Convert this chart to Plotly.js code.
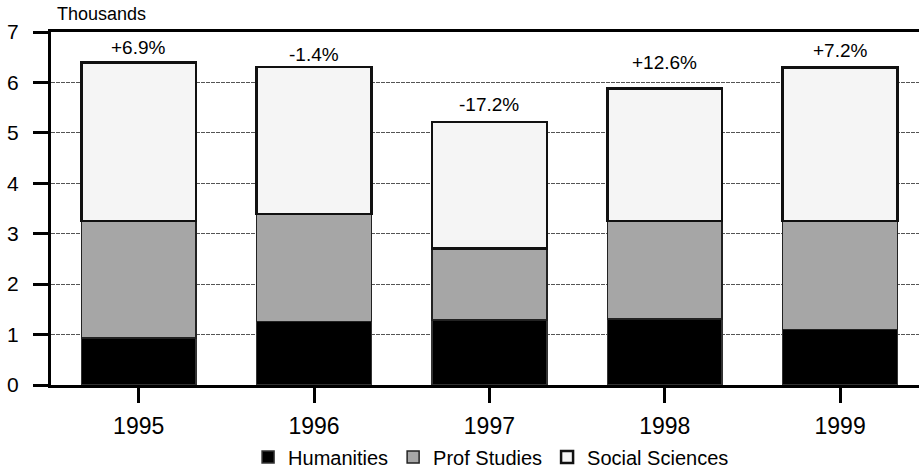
<!DOCTYPE html>
<html>
<head>
<meta charset="utf-8">
<script src="https://cdn.plot.ly/plotly-3.0.1.min.js"></script>
<style>
html,body{margin:0;padding:0;background:#fff;overflow:hidden;}
#chart{width:919px;height:474px;}
</style>
</head>
<body>
<div id="chart"></div>
<script>
// ---- data (thousands) ----
const years = ['1995', '1996', '1997', '1998', '1999'];
const humanities = [0.93, 1.26, 1.29, 1.31, 1.10];
const profStudies = [2.32, 2.13, 1.42, 1.94, 2.15];
const socialSciences = [3.15, 2.92, 2.51, 2.63, 3.05];
const changeLabels = ['+6.9%', '-1.4%', '-17.2%', '+12.6%', '+7.2%'];
const yTicks = [0, 1, 2, 3, 4, 5, 6, 7];

// ---- build ----
const totals = years.map((_, i) => humanities[i] + profStudies[i] + socialSciences[i]);
const labelShift = [15, 12, 17, 26, 17];
const FONT = 'Liberation Sans, Arial, sans-serif';

const traces = [
  {type: 'bar', name: 'Humanities', x: years, y: humanities,
   marker: {color: '#000000', line: {color: '#333', width: 1.5}}},
  {type: 'bar', name: 'Prof Studies', x: years, y: profStudies,
   marker: {color: '#a6a6a6', line: {color: '#222', width: 1.5}}},
  {type: 'bar', name: 'Social Sciences', x: years, y: socialSciences,
   marker: {color: '#f5f5f5', line: {color: '#111', width: 2.5}}}
];

const annotations = years.map((yr, i) => ({
  x: i, y: totals[i], xref: 'x', yref: 'y',
  text: changeLabels[i], showarrow: false,
  xanchor: 'center', yanchor: 'middle', yshift: labelShift[i],
  font: {family: FONT, size: 19, color: '#000'}
}));
annotations.push({
  xref: 'paper', yref: 'paper', x: 0.005, y: 1.051,
  xanchor: 'left', yanchor: 'middle', showarrow: false,
  text: 'Thousands',
  font: {family: FONT, size: 18, color: '#000'}
});

const layout = {
  width: 919, height: 474,
  margin: {l: 51, r: 0, t: 32, b: 89, pad: 0},
  paper_bgcolor: '#fff', plot_bgcolor: '#fff',
  barmode: 'stack', bargap: 0.345,
  font: {family: FONT, color: '#000'},
  showlegend: true,
  legend: {
    orientation: 'h', xref: 'paper', x: 0.507, xanchor: 'center',
    yref: 'container', y: 0.036, yanchor: 'middle',
    font: {family: FONT, size: 20, color: '#000'},
    traceorder: 'normal', itemclick: false
  },
  xaxis: {
    type: 'category', range: [-0.5, 4.45],
    showline: true, linecolor: '#000', linewidth: 3, mirror: true,
    ticks: 'outside', ticklen: 15, tickwidth: 3, tickcolor: '#000',
    tickfont: {family: FONT, size: 23, color: '#000'},
    ticklabelstandoff: 3,
    showgrid: false, zeroline: false, fixedrange: true
  },
  yaxis: {
    range: [0, 7], tickvals: yTicks, ticktext: yTicks.map(String),
    showline: true, linecolor: '#000', linewidth: 3,
    ticks: 'outside', ticklen: 15, tickwidth: 3, tickcolor: '#000',
    tickfont: {family: FONT, size: 21, color: '#000'},
    ticklabelstandoff: 10,
    showgrid: true, gridcolor: '#555', gridwidth: 1, griddash: '4px,1px',
    zeroline: false, fixedrange: true
  },
  annotations: annotations
};

Plotly.newPlot('chart', traces, layout, {displayModeBar: false, staticPlot: true});
</script>
</body>
</html>
